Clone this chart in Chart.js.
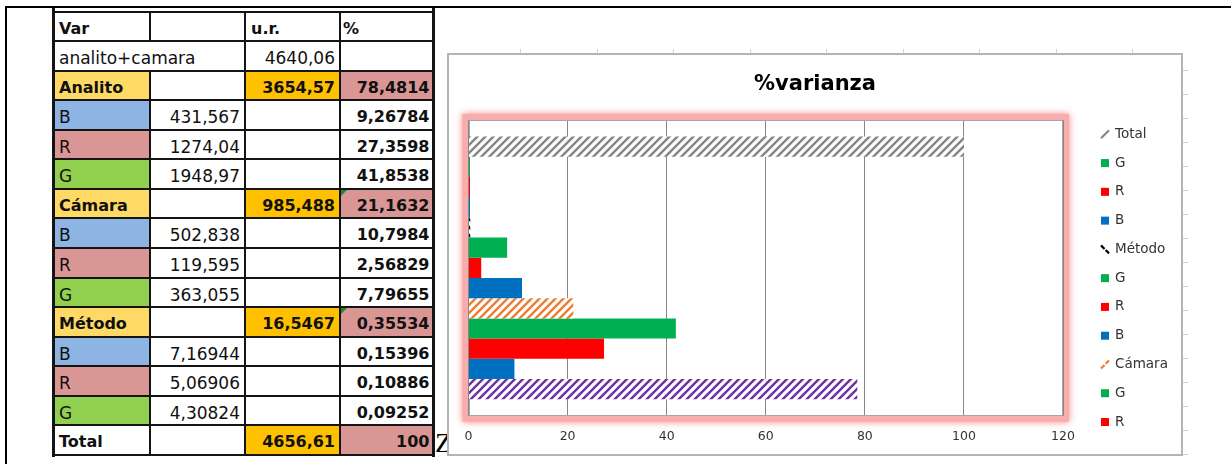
<!DOCTYPE html>
<html><head><meta charset="utf-8">
<script src="https://cdn.jsdelivr.net/npm/chart.js@4/dist/chart.umd.min.js"></script>
<style>
html,body{margin:0;padding:0;background:#fff;}
body{width:1231px;height:464px;position:relative;overflow:hidden;font-family:"DejaVu Sans",sans-serif;}
.ln{position:absolute;background:#141414;}
.cell{position:absolute;box-sizing:border-box;white-space:nowrap;color:#111;overflow:visible;}
.tick{position:absolute;background:#d2d2d2;}
#zchar{position:absolute;left:435px;top:429px;font-family:"Liberation Serif",serif;font-size:28px;line-height:1;color:#000;}
#chartBox{position:absolute;left:448px;top:54px;width:734px;height:401px;background:#fff;z-index:2;}
#frame{position:absolute;left:447px;top:53px;width:736px;height:403px;box-sizing:border-box;border:2px solid #b4b4b4;z-index:3;pointer-events:none;}
</style></head><body>
<div id="sheet"></div>
<div id="zchar">Z</div>
<div id="chartBox"><canvas id="c" width="734" height="401"></canvas></div>
<div id="frame"></div>
<script>
// ---------- table data ----------
const tableHeader = ['Var', '', 'u.r.', '%'];
const rowLabels   = ['analito+camara','Analito','B','R','G','Cámara','B','R','G','Método','B','R','G','Total'];
const componentUR = ['', '', '431,567','1274,04','1948,97','','502,838','119,595','363,055','','7,16944','5,06906','4,30824',''];
const groupUR     = ['4640,06','3654,57','','','','985,488','','','','16,5467','','','','4656,61'];
const pctText     = ['', '78,4814','9,26784','27,3598','41,8538','21,1632','10,7984','2,56829','7,79655','0,35534','0,15396','0,10886','0,09252','100'];
const rowKinds    = ['sum','group','B','R','G','group','B','R','G','group','B','R','G','total'];

// ---------- chart data ----------
const categories   = [''];
const seriesLabels = ['Total','G','R','B','Método','G','R','B','Cámara','G','R','B','Analito'];
const seriesValues = [100, 0.09252, 0.10886, 0.15396, 0.35534, 7.79655, 2.56829, 10.7984, 21.1632, 41.8538, 27.3598, 9.26784, 78.4814];
const xTicks       = [0, 20, 40, 60, 80, 100, 120];

// ---------- styles ----------
const seriesColors = ['#858585','#00B050','#FF0000','#0070C0','#000000','#00B050','#FF0000','#0070C0','#ED7D31','#00B050','#FF0000','#0070C0','#7030A0'];
const seriesHatch  = ['up','','','','down','','','','up','','','','up'];
const LEGEND_SHOWN = 11;

// ---------- spreadsheet ----------
const ROW_H = 29.57, TOP0 = 11.5;
const colX = [53, 150, 245, 340, 433.5];
const FILL = {group:'#FFD966', gold:'#FFC000', pink:'#DA9694', B:'#8DB4E2', R:'#DA9694', G:'#92D050'};
const sheet = document.getElementById('sheet');
function add(cls, css, text){
  const d = document.createElement('div'); d.className = cls;
  Object.assign(d.style, css); if (text != null) d.textContent = text;
  sheet.appendChild(d); return d;
}
const allRows = [tableHeader].concat(rowLabels.map((l,i)=>[l, componentUR[i], groupUR[i], pctText[i]]));
const kinds = ['header'].concat(rowKinds);
allRows.forEach((cells, r) => {
  const kind = kinds[r];
  const y = TOP0 + r*ROW_H;
  cells.forEach((txt, c) => {
    if (kind === 'sum' && c === 1) return;
    let x0 = colX[c], x1 = colX[c+1];
    if (kind === 'sum' && c === 0) x1 = colX[2];
    let bg = '', bold = false, align = 'right';
    if (kind === 'header') { bold = true; align = 'left'; }
    else if (c === 0) {
      align = 'left';
      if (kind === 'group') { bg = FILL.group; bold = true; }
      else if (kind === 'B' || kind === 'R' || kind === 'G') bg = FILL[kind];
      else if (kind === 'total') bold = true;
    } else if (c === 2) {
      if (kind === 'group' || kind === 'total') { bg = FILL.gold; bold = true; }
    } else if (c === 3) {
      bold = true;
      if (kind === 'group' || kind === 'total') bg = FILL.pink;
    }
    const padL = (c === 3 && kind === 'header') ? 3 : 6;
    const padR = c === 3 ? 4 : 5;
    add('cell', {
      left: x0 + 'px', top: y + 'px', width: (x1 - x0) + 'px', height: ROW_H + 'px',
      background: bg || 'transparent', textAlign: align,
      padding: `5px ${padR}px 0 ${padL}px`, lineHeight: (ROW_H - 5) + 'px',
      fontSize: bold ? '16px' : '17px', fontWeight: bold ? 'bold' : 'normal'
    }, txt);
  });
});
// grid lines of the table
for (let r = 0; r <= allRows.length; r++) {
  const y = TOP0 + r*ROW_H;
  add('ln', {left: '52px', top: (y - 1) + 'px', width: '383px', height: '2px'});
}
add('ln', {left: '51.5px', top: '6.5px', width: '3px', height: '450px'});
add('ln', {left: '432.3px', top: '6.5px', width: '2.5px', height: '450px'});
[1, 2, 3].forEach(c => {
  const x = colX[c] - 1;
  if (c === 1) {
    add('ln', {left: x + 'px', top: TOP0 + 'px', width: '2px', height: ROW_H + 'px'});
    add('ln', {left: x + 'px', top: (TOP0 + 2*ROW_H) + 'px', width: '2px', height: (455 - TOP0 - 2*ROW_H) + 'px'});
  } else {
    add('ln', {left: x + 'px', top: TOP0 + 'px', width: '2px', height: (455 - TOP0) + 'px'});
  }
});
// page border lines
add('ln', {left: '5px', top: '5.5px', width: '1226px', height: '2px', background: '#000'});
add('ln', {left: '5px', top: '5.5px', width: '2px', height: '460px', background: '#000'});
// green error indicators
[6, 10].forEach(r => {
  add('cell', {left: (colX[3] + 1) + 'px', top: (TOP0 + r*ROW_H + 1) + 'px', width: '0', height: '0',
    borderTop: '6px solid #1a8a2a', borderRight: '6px solid transparent'});
});
// worksheet gridline stubs around the chart
for (let i = 0; i < 9; i++) add('tick', {left: (520 + i*76.5) + 'px', top: '49px', width: '1px', height: '5px'});
for (let i = 0; i < 17; i++) add('tick', {left: '1182px', top: (70 + i*24) + 'px', width: '6px', height: '1px'});

// ---------- chart ----------
const canvas = document.getElementById('c');
const ctx0 = canvas.getContext('2d');
function hatchPattern(color, dir){
  const t = document.createElement('canvas'); t.width = t.height = 8;
  const g = t.getContext('2d');
  g.fillStyle = '#fff'; g.fillRect(0, 0, 8, 8);
  g.strokeStyle = color; g.lineWidth = 2.4;
  g.beginPath();
  for (let k = -1; k <= 1; k++) {
    if (dir === 'up') { g.moveTo(8*k - 2, 10); g.lineTo(8*k + 10, -2); }
    else { g.moveTo(8*k - 2, -2); g.lineTo(8*k + 10, 10); }
  }
  g.stroke();
  return ctx0.createPattern(t, 'repeat');
}
const FONT = '"DejaVu Sans"';

const plotFrame = {
  id: 'plotFrame',
  beforeDraw(chart){
    const {ctx, chartArea: a} = chart;
    ctx.save();
    ctx.shadowColor = 'rgba(250,110,110,0.9)';
    ctx.shadowBlur = 7;
    ctx.strokeStyle = 'rgba(248,172,172,1)';
    ctx.lineWidth = 6;
    ctx.strokeRect(a.left - 3, a.top - 3, a.width + 6, a.height + 6);
    ctx.restore();
    ctx.save();
    ctx.fillStyle = '#fff';
    ctx.fillRect(a.left, a.top, a.width, a.height);
    ctx.restore();
  },
  beforeDatasetsDraw(chart){
    const {ctx, chartArea: a} = chart;
    ctx.save();
    ctx.strokeStyle = '#a6a6a6'; ctx.lineWidth = 1;
    const l = Math.round(a.left) + 0.5, t = Math.round(a.top) + 0.5;
    const r = Math.round(a.right) - 0.5, b = Math.round(a.bottom) - 0.5;
    ctx.strokeRect(l, t, r - l, b - t);
    ctx.restore();
  }
};

const LEG_W = 119, LEG_X = 38, LEG_TOP = 14.3, LEG_STEP = 28.77, LEG_FONT = 13.5;
const sideLegend = {
  id: 'sideLegend',
  beforeInit(chart){
    const box = {
      position: 'right', weight: 100, fullSize: false, options: {},
      left: 0, top: 0, right: 0, bottom: 0, width: 0, height: 0,
      isHorizontal(){ return false; },
      update(maxW, maxH){ this.width = LEG_W; this.height = maxH; },
      draw(){
        const ctx = chart.ctx;
        ctx.save();
        ctx.font = `${LEG_FONT}px ${FONT}`;
        ctx.textBaseline = 'middle';
        chart.data.datasets.slice(0, LEGEND_SHOWN).forEach((ds, i) => {
          const cy = this.top + LEG_TOP + i*LEG_STEP;
          const x = this.left + LEG_X;
          if (seriesHatch[i]) {
            ctx.strokeStyle = seriesColors[i]; ctx.lineWidth = 2.2;
            ctx.setLineDash(i === 0 ? [] : [5, 1.6]);
            ctx.beginPath();
            if (seriesHatch[i] === 'up') { ctx.moveTo(x, cy + 4); ctx.lineTo(x + 8, cy - 4); }
            else { ctx.moveTo(x, cy - 4); ctx.lineTo(x + 8, cy + 4); }
            ctx.stroke(); ctx.setLineDash([]);
          } else {
            ctx.fillStyle = seriesColors[i];
            ctx.fillRect(x, cy - 4, 8, 8);
          }
          ctx.fillStyle = '#333';
          ctx.fillText(ds.label, x + 14, cy);
        });
        ctx.restore();
      }
    };
    Chart.layouts.addBox(chart, box);
  }
};

new Chart(canvas, {
  type: 'bar',
  data: {
    labels: categories,
    datasets: seriesLabels.map((label, i) => ({
      label,
      data: [seriesValues[i]],
      backgroundColor: seriesHatch[i] ? hatchPattern(seriesColors[i], seriesHatch[i]) : seriesColors[i],
      borderWidth: 0,
      categoryPercentage: 0.889,
      barPercentage: 1.0,
      minBarLength: 1.5
    }))
  },
  options: {
    indexAxis: 'y',
    responsive: false,
    animation: false,
    layout: {padding: 0},
    plugins: {
      legend: {display: false},
      tooltip: {enabled: false},
      title: {display: true, text: '%varianza', color: '#000',
        font: {family: FONT, size: 21, weight: 'bold', lineHeight: 1.2},
        padding: {top: 18.4, bottom: 22.4}}
    },
    scales: {
      x: {
        type: 'linear', min: 0, max: 120, position: 'bottom',
        grid: {color: '#878787', lineWidth: 1, drawTicks: false},
        border: {display: false},
        ticks: {font: {family: FONT, size: 12.5}, color: '#333', padding: 13.8},
        afterBuildTicks: s => { s.ticks = xTicks.map(v => ({value: v})); },
        afterFit: s => { s.height = 39.3; }
      },
      y: {
        type: 'category',
        grid: {display: false},
        ticks: {display: false},
        border: {display: true, color: '#878787'},
        afterFit: s => { s.width = 20.5; }
      }
    }
  },
  plugins: [plotFrame, sideLegend]
});
</script>
</body></html>
